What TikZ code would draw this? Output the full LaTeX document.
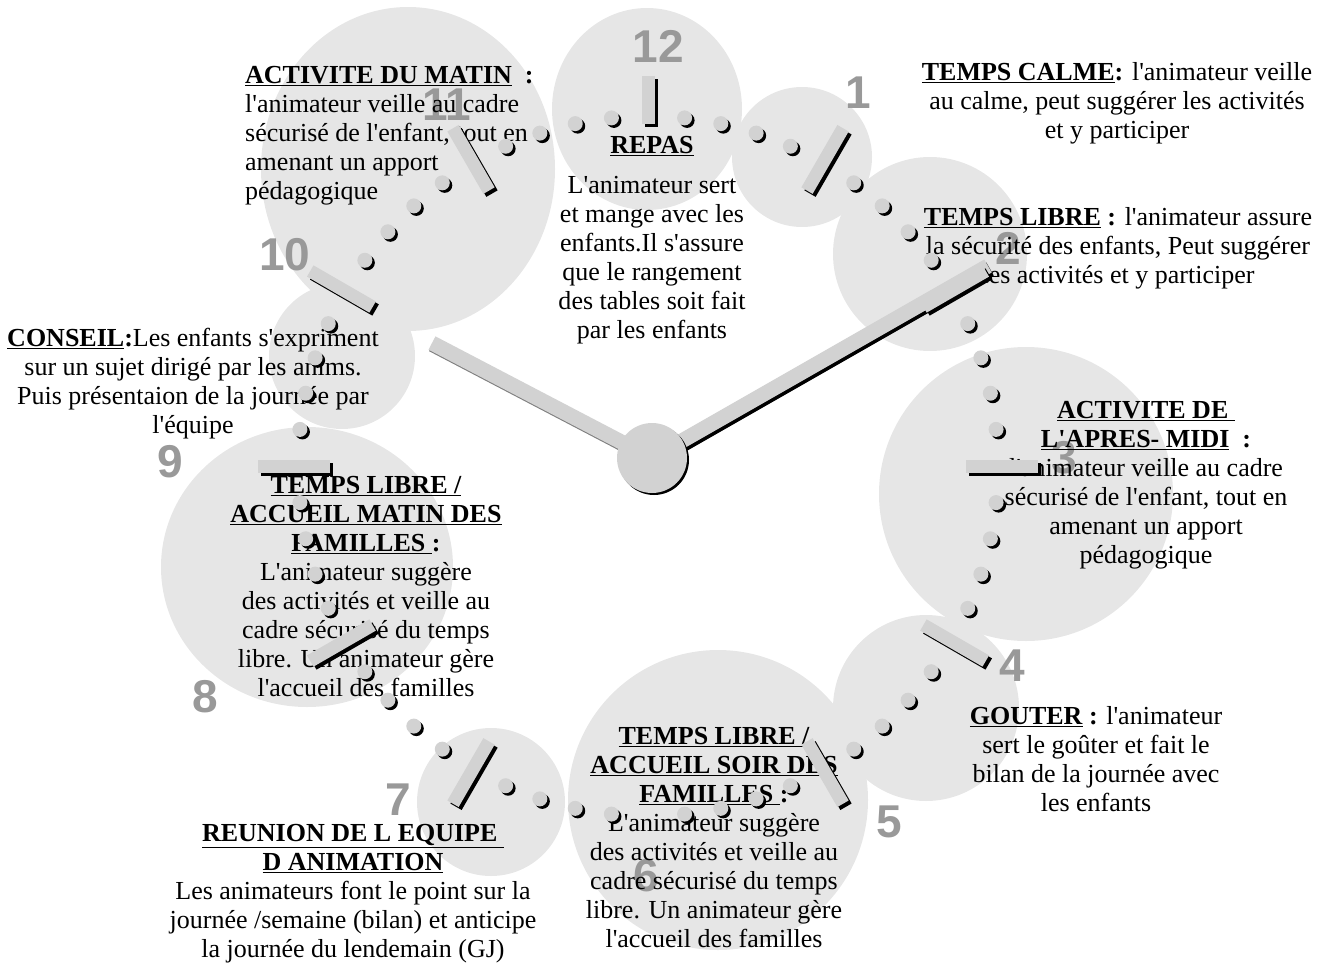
\documentclass[tikz,border=0pt]{standalone}
\usepackage{fontspec}
\setmainfont{Liberation Serif}[Ligatures=TeXOff]
\newfontfamily\numfont{Liberation Sans}
\usetikzlibrary{shadows}

\definecolor{bubble}{HTML}{E6E6E6}
\definecolor{knob}{HTML}{D2D2D2}
\definecolor{numgray}{HTML}{999999}

\newcommand{\hd}[1]{\textbf{\underline{#1}}}

\tikzset{
  bubble/.style={fill=bubble},
  hournum/.style={text=numgray, inner sep=0pt, font=\numfont\bfseries\fontsize{46}{46}\selectfont},
  note/.style={align=center, inner sep=0pt, anchor=north, font=\fontsize{26}{29}\selectfont},
  tickbar/.style={draw=knob, line width=13pt},
  tickshade/.style={draw=black, line width=13pt},
  hand/.style={draw=knob, line width=15pt},
  handshade/.style={draw=black, line width=15pt},
}

\begin{document}
\begin{tikzpicture}[x=1pt,y=-1pt]
    \def\cx{648}
    \def\cy{466}
    \def\rdot{350}
    \useasboundingbox (0,0) rectangle (1322,963);

    % tick at six sits under its bubble
    \draw[tickshade] ({\cx+3},{\cy+320+3}) -- ({\cx+3},{\cy+390+3});
    \draw[tickbar] (\cx,{\cy+320}) -- (\cx,{\cy+390});

    % bubbles
    \fill[bubble] (408,169) circle[x radius=147pt, y radius=162pt];
    \fill[bubble] (647,109) circle[x radius=95pt, y radius=101pt];
    \fill[bubble] (802,157) circle[radius=70pt];
    \fill[bubble] (930,254) circle[radius=97pt];
    \fill[bubble] (1026,494) circle[radius=147pt];
    \fill[bubble] (926,708) circle[radius=93pt];
    \fill[bubble] (718,800) circle[radius=150pt];
    \fill[bubble] (491,802) circle[radius=74pt];
    \fill[bubble] (307,567) circle[x radius=146pt, y radius=140pt];
    \fill[bubble] (342,356) circle[radius=73pt];

    % hour numbers
    \foreach \n/\x/\y in {12/658/46, 1/858/93, 2/1008/248, 3/1064/458, 4/1012/666,
        5/889/822, 6/646/876, 7/398/800, 8/205/697, 9/170/462, 10/285/255, 11/447/105}
        \node (h\n) [hournum] at (\x,\y) {\n};

    % texts
    \node (matin) [note, align=left, anchor=north west] at (245,66)
        {\hd{ACTIVITE DU MATIN}\textbf{\ \ :}\\ l'animateur veille au cadre\\
         sécurisé de l'enfant, tout en\\ amenant un apport\\ pédagogique};
    \node (repas) [note] at (652,136)
        {\hd{REPAS}\\[11pt] L'animateur sert\\ et mange avec les\\ enfants.Il s'assure\\
         que le rangement\\ des tables soit fait\\ par les enfants};
    \node (calme) [note] at (1117,62)
        {\hd{TEMPS CALME}\textbf{:} l'animateur veille\\
         au calme, peut suggérer les activités\\ et y participer};
    \node (libre) [note] at (1118,207)
        {\hd{TEMPS LIBRE}\textbf{ :} l'animateur assure\\
         la sécurité des enfants, Peut suggérer\\ les activités et y participer};
    \node (apres) [note] at (1146,401)
        {\hd{ACTIVITE DE\ }\\ \hd{L'APRES- MIDI}\textbf{\ \ :}\\ l'animateur veille au cadre\\
         sécurisé de l'enfant, tout en\\ amenant un apport\\ pédagogique};
    \node (gouter) [note] at (1096,706)
        {\hd{GOUTER}\textbf{ :} l'animateur\\ sert le goûter et fait le\\
         bilan de la journée avec\\ les enfants};
    \node (soir) [note] at (714,727)
        {\hd{TEMPS LIBRE /}\\ \hd{ACCUEIL SOIR DES}\\ \hd{FAMILLES\ }\textbf{:}\\
         L'animateur suggère\\ des activités et veille au\\ cadre sécurisé du temps\\
         libre. Un animateur gère\\ l'accueil des familles};
    \node (reunion) [note] at (353,824)
        {\hd{REUNION DE L EQUIPE\ }\\ \hd{D ANIMATION}\\ Les animateurs font le point sur la\\
         journée /semaine (bilan) et anticipe\\ la journée du lendemain (GJ)};
    \node (matinfam) [note] at (366,476)
        {\hd{TEMPS LIBRE /}\\ \hd{ACCUEIL MATIN DES}\\ \hd{FAMILLES\ }\textbf{:}\\
         L'animateur suggère\\ des activités et veille au\\ cadre sécurisé du temps\\
         libre. Un animateur gère\\ l'accueil des familles};
    \node (conseil) [note] at (193,328)
        {\hd{CONSEIL}\textbf{:}Les enfants s'expriment\\ sur un sujet dirigé par les anims.\\
         Puis présentaion de la journée par\\ l'équipe};

    % hands
    \coordinate (hubc) at (652,458);
    \coordinate (hourtip) at (432,343);
    \coordinate (mintip) at (988,266);
    \draw[handshade, draw=gray] ([shift={(0.5,1.5)}]hubc) -- ([shift={(0.5,1.5)}]hourtip);
    \draw[hand] (hubc) -- (hourtip);
    \draw[handshade] ([shift={(2,3)}]hubc) -- ([shift={(2,3)}]mintip);
    \draw[hand] (hubc) -- (mintip);
    \node (hub) [circle, fill=knob, inner sep=0pt, minimum size=70pt,
        drop shadow={shadow xshift=2pt, shadow yshift=-2pt, fill=black, opacity=1}] at (hubc) {};

    % minute dots
    \foreach \m in {0,...,59}{
        \pgfmathtruncatemacro\r{mod(\m,5)}
        \ifnum\r>0
            \fill[black] ({\cx+\rdot*sin(6*\m)+2.5},{\cy-\rdot*cos(6*\m)+2.5}) circle[radius=7.5pt];
            \fill[knob] ({\cx+\rdot*sin(6*\m)},{\cy-\rdot*cos(6*\m)}) circle[radius=7.5pt];
        \fi
    }

    % hour ticks
    \foreach \h/\ri in {1/318, 2/318, 3/318, 4/318, 5/318, 7/318, 8/318, 9/318, 10/318, 11/318, 12/342}{
        \draw[tickshade] ({\cx+\ri*sin(30*\h)+3},{\cy-\ri*cos(30*\h)+3})
            -- ({\cx+390*sin(30*\h)+3},{\cy-390*cos(30*\h)+3});
        \draw[tickbar] ({\cx+\ri*sin(30*\h)},{\cy-\ri*cos(30*\h)})
            -- ({\cx+390*sin(30*\h)},{\cy-390*cos(30*\h)});
    }
\end{tikzpicture}
\end{document}
